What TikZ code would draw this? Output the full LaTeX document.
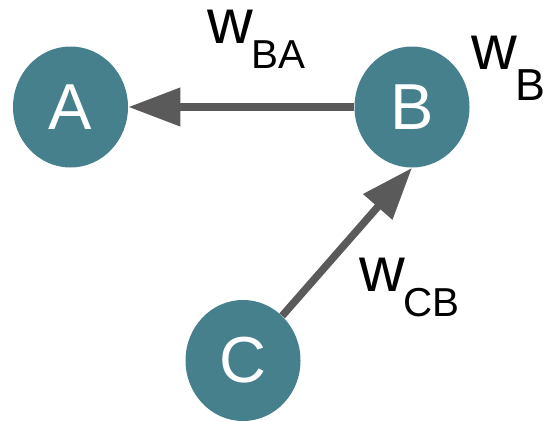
\documentclass[tikz,border=0pt]{standalone}
\usepackage{fontspec}
\setmainfont{Liberation Sans}
\usetikzlibrary{arrows.meta,shapes.geometric}
\definecolor{nodeteal}{HTML}{46808D}
\definecolor{edgegray}{HTML}{5A5A5A}
\tikzset{>={Triangle[length=10.4mm, width=7.4mm]},
  vtx/.style={ellipse, fill=nodeteal, minimum width=23mm, minimum height=24.2mm, inner sep=0pt, text=white, font=\fontsize{37}{40}\selectfont},
  edg/.style={->, draw=edgegray, line width=1.5mm},
  wlab/.style={anchor=base west, inner sep=0pt, font=\fontsize{36}{40}\selectfont}}
% weight label: w with a lowered index (index size, drop)
\newcommand{\wsub}[3][23]{w\kern-1pt\raisebox{-#3pt}{\fontsize{#1}{26}\selectfont #2}}

\begin{document}
\begin{tikzpicture}[x=1cm, y=1cm]
  \useasboundingbox (0,0) rectangle (10.86,8.42);
  \node[vtx] (A) at (1.41,6.28) {A};
  \node[vtx] (B) at (8.24,6.28) {B};
  \node[vtx] (C) at (4.86,1.21) {C};
  \draw[edg] (B) -- (A);
  \draw[edg] (C) -- (B.south);
  \node[wlab] (wba) at (4.14,7.55) {\wsub{BA}{14}};
  \node[wlab] (wb) at (9.42,7.04) {\wsub[25.5]{B}{18}};
  \node[wlab] (wcb) at (7.18,2.59) {\wsub{CB}{14}};
\end{tikzpicture}
\end{document}
